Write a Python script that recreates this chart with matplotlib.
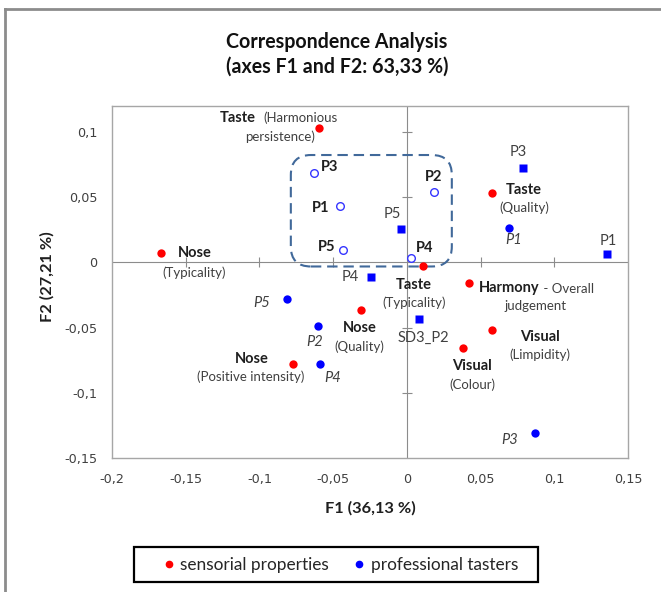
import matplotlib
matplotlib.use('Agg')
import matplotlib.pyplot as plt
from matplotlib.lines import Line2D
from matplotlib.patches import FancyBboxPatch, Rectangle
from matplotlib.ticker import FuncFormatter

W, H, DPI = 661, 592, 100
FONT = 'Lato'

# --- data -------------------------------------------------------------
# sensorial properties (red)
sens_x = [-0.0597, -0.1669, 0.0577, 0.0109, 0.0421, 0.0577, 0.0380, -0.0312, -0.0773]
sens_y = [0.1030, 0.0069, 0.0534, -0.0031, -0.0160, -0.0519, -0.0656, -0.0366, -0.0779]
sens_main = ['Taste', 'Nose', 'Taste', 'Taste', 'Harmony', 'Visual', 'Visual', 'Nose', 'Nose']
sens_sub = ['(Harmonious\npersistence)', '(Typicality)', '(Quality)', '(Typicality)',
            '- Overall\njudgement', '(Limpidity)', '(Colour)', '(Quality)',
            '(Positive intensity)']

# professional tasters (blue dots)
tast_x = [0.0692, -0.0814, -0.0604, -0.0590, 0.0868]
tast_y = [0.0267, -0.0282, -0.0489, -0.0779, -0.1305]
tast_names = ['P1', 'P5', 'P2', 'P4', 'P3']

# blue squares
sq_x = [0.0787, 0.1357, -0.0041, -0.0244, 0.0081]
sq_y = [0.0725, 0.0061, 0.0260, -0.0115, -0.0435]
sq_names = ['P3', 'P1', 'P5', 'P4', 'SD3_P2']

# open circles (grouped in the dashed box)
open_x = [-0.0631, -0.0455, -0.0434, 0.0183, 0.0027]
open_y = [0.0687, 0.0435, 0.0099, 0.0542, 0.0031]
open_names = ['P3', 'P1', 'P5', 'P2', 'P4']
group_box = (-0.0787, -0.0031, 0.0305, 0.0824)  # x0, y0, x1, y1

x_ticks = [-0.2, -0.15, -0.1, -0.05, 0, 0.05, 0.1, 0.15]
y_ticks = [-0.15, -0.1, -0.05, 0, 0.05, 0.1]

legend_labels = ['sensorial properties', 'professional tasters']

# --- label layout (pixel offsets from the marker, y up) ---------------
sens_pos = [
    ((-63, 10, 'right'), [(-55, 10, 'left'), (-39, -9, 'center')]),
    ((17, 0, 'left'), [(33, -19, 'center')]),
    ((32, 3, 'center'), [(32, -15, 'center')]),
    ((-9, -19, 'center'), [(-9, -36, 'center')]),
    ((10, -5, 'left'), [None, (67, -23, 'center')]),
    ((48, -7, 'center'), [(48, -25, 'center')]),
    ((9, -18, 'center'), [(9, -37, 'center')]),
    ((-1, -18, 'center'), [(-2, -37, 'center')]),
    ((-41, 5, 'center'), [(-42, -13, 'center')]),
]
tast_pos = [(5, -12), (-25, -4), (-3, -16), (13, -14), (-25, -7)]
sq_pos = [(-5, 16), (1, 13), (-9, 15), (-21, 0), (5, -19)]
open_pos = [(16, 6), (-19, -2), (-16, 3), (0, 15), (14, 10)]

MAIN_SIZE, SUB_SIZE, P_SIZE = 10.5, 9.5, 10.5
DARK, GREY = '#1f1f1f', '#404040'


def label(ax, x, y, dx, dy, s, ha='center', **kw):
    return ax.annotate(s, (x, y), xytext=(dx, dy), textcoords='offset pixels',
                       ha=ha, va='center', family=FONT, **kw)


fig = plt.figure(figsize=(W / DPI, H / DPI), dpi=DPI)
ax = fig.add_axes([112 / W, 1 - 458 / H, (628 - 112) / W, (458 - 106) / H])
ax.set_xlim(-0.2, 0.15)
ax.set_ylim(-0.15, 0.12)

fmt = FuncFormatter(lambda v, p: ('%g' % round(v, 4)).replace('.', ','))
ax.set_xticks(x_ticks)
ax.set_yticks(y_ticks)
ax.xaxis.set_major_formatter(fmt)
ax.yaxis.set_major_formatter(fmt)
ax.tick_params(length=0, pad=10.5, labelsize=9.2, labelcolor='#404040')
for sp in ax.spines.values():
    sp.set_color('#a6a6a6')
    sp.set_linewidth(1)

# axes through the origin with cross ticks
ax.axhline(0, color='#8c8c8c', lw=0.8, zorder=1)
ax.axvline(0, color='#8c8c8c', lw=0.8, zorder=1)
xin = [t for t in x_ticks[1:-1] if t != 0]
yin = [t for t in y_ticks[1:] if t != 0]
ax.plot(xin, [0] * len(xin), ls='none', marker='|', ms=7, mew=0.8, color='#8c8c8c', zorder=1)
ax.plot([0] * len(yin), yin, ls='none', marker='_', ms=7, mew=0.8, color='#8c8c8c', zorder=1)

# dashed group box
x0, y0, x1, y1 = group_box
ax.add_patch(FancyBboxPatch((x0, y0), x1 - x0, y1 - y0,
                            boxstyle='round,pad=0,rounding_size=0.0136',
                            mutation_aspect=1.125, fill=False, ec='#41699a',
                            lw=1.5, ls=(0, (5, 2.8)), zorder=3))

# markers
ax.plot(sens_x, sens_y, ls='none', marker='o', ms=6, color='#ff0000', mec='none', zorder=4)
ax.plot(tast_x, tast_y, ls='none', marker='o', ms=6, color='#0000ff', mec='none', zorder=4)
ax.plot(sq_x, sq_y, ls='none', marker='s', ms=5.3, color='#0000ff', mec='none', zorder=4)
ax.plot(open_x, open_y, ls='none', marker='o', ms=5.5, mfc='white', mec='#3535ff',
        mew=1, zorder=4)

# labels
for i, (x, y) in enumerate(zip(sens_x, sens_y)):
    (mdx, mdy, mha), subs = sens_pos[i]
    t = label(ax, x, y, mdx, mdy, sens_main[i], ha=mha, size=MAIN_SIZE,
              weight='bold', color=DARK)
    for line, pos in zip(sens_sub[i].split('\n'), subs):
        if pos is None:
            ax.annotate(' ' + line, xy=(1, 0), xycoords=t, ha='left', va='bottom',
                        family=FONT, size=SUB_SIZE, color=GREY)
        else:
            label(ax, x, y, pos[0], pos[1], line, ha=pos[2], size=SUB_SIZE, color=GREY)

for x, y, s, (dx, dy) in zip(tast_x, tast_y, tast_names, tast_pos):
    label(ax, x, y, dx, dy, s, size=P_SIZE, style='italic', color=GREY)
for x, y, s, (dx, dy) in zip(sq_x, sq_y, sq_names, sq_pos):
    label(ax, x, y, dx, dy, s, size=P_SIZE, color=GREY)
for x, y, s, (dx, dy) in zip(open_x, open_y, open_names, open_pos):
    label(ax, x, y, dx, dy, s, size=P_SIZE, weight='bold', color=DARK)

# titles
fig.text(337 / W, 1 - 42 / H, 'Correspondence Analysis', ha='center', va='center',
         family=FONT, size=14.1, weight='bold', color='#111111')
fig.text(337 / W, 1 - 67 / H, '(axes F1 and F2: 63,33 %)', ha='center', va='center',
         family=FONT, size=14.1, weight='bold', color='#111111')
fig.text(370 / W, 1 - 508 / H, 'F1 (36,13 %)', ha='center', va='center',
         family=FONT, size=11.8, weight='bold', color='#1f1f1f')
fig.text(47 / W, 1 - 277 / H, 'F2 (27,21 %)', ha='center', va='center', rotation=90,
         family=FONT, size=11.8, weight='bold', color='#1f1f1f')

# legend (frame drawn separately to match the reference box)
handles = [Line2D([], [], ls='none', marker='o', ms=4.5, color='#ff0000'),
           Line2D([], [], ls='none', marker='o', ms=4.5, color='#0000ff')]
leg = fig.legend(handles, legend_labels, loc='center',
                 bbox_to_anchor=(341 / W, 1 - 565 / H), ncol=2, frameon=False,
                 prop=dict(family=FONT, size=12.4), handlelength=0.6,
                 handletextpad=0.35, columnspacing=1.45, borderpad=0)
for txt in leg.get_texts():
    txt.set_color('#262626')
fig.add_artist(Rectangle((134 / W, 1 - 582 / H), 404 / W, 35 / H, transform=fig.transFigure,
                         fill=False, ec='black', lw=1.6))

# outer chart frame (top and left edges visible)
fig.add_artist(Line2D([5 / W, 1], [1 - 9 / H, 1 - 9 / H], transform=fig.transFigure,
                      color='#8c8c8c', lw=2))
fig.add_artist(Line2D([5 / W, 5 / W], [0, 1 - 9 / H], transform=fig.transFigure,
                      color='#8c8c8c', lw=2))

fig.savefig('out.png', dpi=DPI)
